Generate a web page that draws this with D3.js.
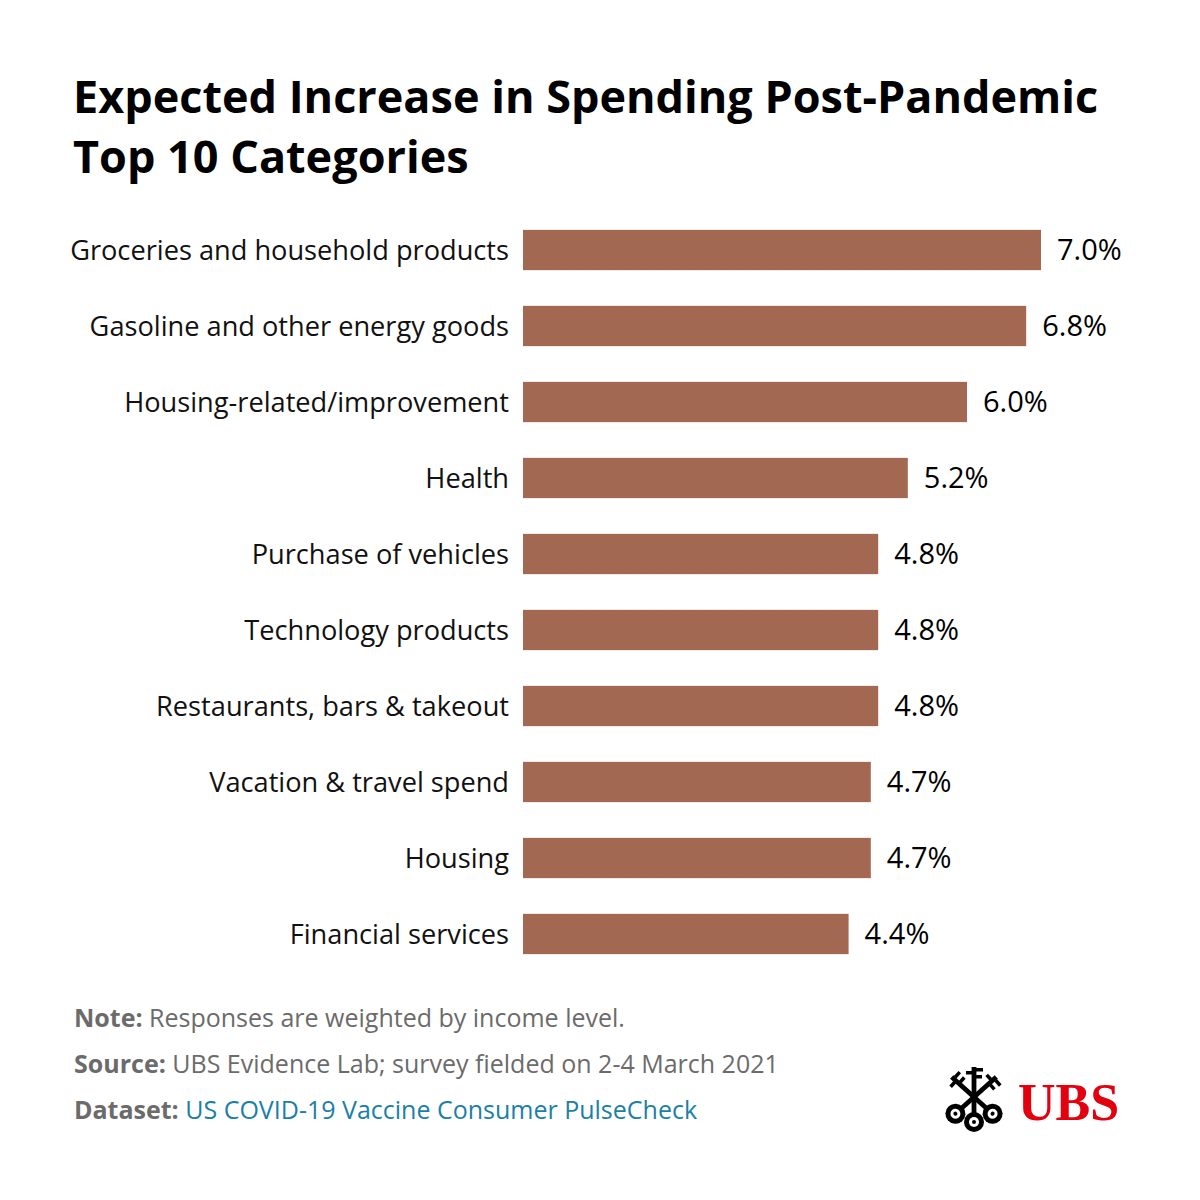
<!DOCTYPE html>
<html>
<head>
<meta charset="utf-8">
<script src="https://cdn.jsdelivr.net/npm/d3@7"></script>
<style>
  body { margin: 0; background: #fff; }
  svg { display: block; font-family: "Open Sans", "Noto Sans", sans-serif; }
</style>
</head>
<body>
<svg id="chart" width="1200" height="1200"></svg>
<script>
// data
const categories = [
  "Groceries and household products",
  "Gasoline and other energy goods",
  "Housing-related/improvement",
  "Health",
  "Purchase of vehicles",
  "Technology products",
  "Restaurants, bars & takeout",
  "Vacation & travel spend",
  "Housing",
  "Financial services"
];
const values = [7.0, 6.8, 6.0, 5.2, 4.8, 4.8, 4.8, 4.7, 4.7, 4.4];
const titleLines = ["Expected Increase in Spending Post-Pandemic", "Top 10 Categories"];
const notes = [
  {label: "Note:", text: "Responses are weighted by income level."},
  {label: "Source:", text: "UBS Evidence Lab; survey fielded on 2-4 March 2021"},
  {label: "Dataset:", text: "US COVID-19 Vaccine Consumer PulseCheck"}
];

const svg = d3.select("#chart");

// title
svg.append("text")
    .attr("x", 73).attr("y", 113)
    .style("font-weight", 700).style("font-size", "45px").attr("fill", "#000")
    .selectAll("tspan")
    .data(titleLines)
    .enter().append("tspan")
    .attr("x", 73)
    .attr("dy", (d, i) => i === 0 ? 0 : 60)
    .text(d => d);

// scales
const x = d3.scaleLinear().domain([0, 7]).range([523, 1041]);
const y = d3.scaleBand()
    .domain(categories)
    .range([212, 972])
    .paddingInner(0.47)
    .paddingOuter(0.235);

const rows = svg.append("g").selectAll("g")
    .data(categories.map((c, i) => ({cat: c, val: values[i]})))
    .enter().append("g");

rows.append("rect")
    .attr("x", x(0))
    .attr("y", d => y(d.cat))
    .attr("width", d => x(d.val) - x(0))
    .attr("height", y.bandwidth())
    .attr("fill", "#a36851");

rows.append("text")
    .attr("x", x(0) - 14)
    .attr("y", d => y(d.cat) + y.bandwidth() / 2)
    .attr("dy", "0.35em")
    .attr("text-anchor", "end")
    .style("font-size", "27.2px")
    .attr("fill", "#111")
    .text(d => d.cat);

rows.append("text")
    .attr("x", d => x(d.val) + 16)
    .attr("y", d => y(d.cat) + y.bandwidth() / 2)
    .attr("dy", "0.35em")
    .style("font-size", "29px")
    .style("font-weight", 500)
    .attr("fill", "#000")
    .text(d => d.val.toFixed(1) + "%");

// footnotes
const foot = svg.append("g").selectAll("text")
    .data(notes)
    .enter().append("text")
    .attr("x", 74)
    .attr("y", (d, i) => 1027 + i * 46)
    .style("font-size", "25px");
foot.append("tspan").style("font-weight", 700).attr("fill", "#6b6b6b").text(d => d.label + " ");
foot.append("tspan")
    .attr("fill", (d, i) => i === 2 ? "#1b7fa8" : "#6b6b6b")
    .text(d => d.text);

// UBS logo: three crossed keys
const logo = svg.append("g").attr("transform", "translate(974,1097)");
const keyAngles = [-48, 0, 48];
keyAngles.forEach(a => {
  const k = logo.append("g").attr("transform", `rotate(${a})`);
  k.append("rect").attr("x", -2.4).attr("y", -30).attr("width", 4.8).attr("height", 46).attr("fill", "#000");
  k.append("rect").attr("x", 2).attr("y", -29).attr("width", 7).attr("height", 3.5).attr("fill", "#000");
  k.append("rect").attr("x", 2).attr("y", -22).attr("width", 6).attr("height", 3.5).attr("fill", "#000");
  k.append("rect").attr("x", -8).attr("y", -26).attr("width", 6).attr("height", 3.5).attr("fill", "#000");
  k.append("circle").attr("cx", 0).attr("cy", 25).attr("r", 10).attr("fill", "#000");
  k.append("circle").attr("cx", 0).attr("cy", 25).attr("r", 5).attr("fill", "#fff");
  k.append("circle").attr("cx", 0).attr("cy", 25).attr("r", 2).attr("fill", "#000");
});
svg.append("text")
    .attr("x", 1018).attr("y", 1120)
    .style("font-family", "'Liberation Serif', 'DejaVu Serif', serif")
    .style("font-weight", 700)
    .style("font-size", "52px")
    .attr("fill", "#e3000f")
    .text("UBS");
</script>
</body>
</html>
